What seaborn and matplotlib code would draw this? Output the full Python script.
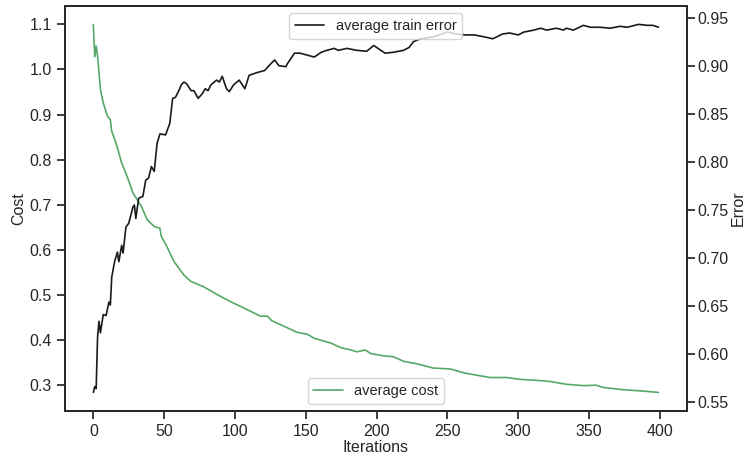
import seaborn as sns
import matplotlib
import matplotlib.pyplot as plt
from pandas import DataFrame
matplotlib.use('Agg')

sns.set_theme(style="ticks")
plt.rcParams['font.family'] = ['Liberation Sans', 'DejaVu Sans']

# values
cost_iter = [0, 1, 2, 3, 5, 7, 10, 12, 13, 16, 20, 23, 26, 28, 34, 38, 43, 47, 48, 52,
             57, 64, 69, 78, 88, 97, 109, 118, 123, 126, 135, 144, 151, 156, 168, 175,
             182, 186, 192, 196, 205, 212, 219, 229, 240, 252, 262, 271, 280, 292, 301,
             316, 323, 334, 346, 355, 360, 374, 388, 399]
cost = [1.100, 1.028, 1.052, 1.030, 0.956, 0.926, 0.896, 0.889, 0.863, 0.837, 0.793,
        0.770, 0.744, 0.726, 0.696, 0.667, 0.652, 0.648, 0.630, 0.607, 0.574, 0.544,
        0.530, 0.518, 0.500, 0.485, 0.467, 0.453, 0.453, 0.443, 0.430, 0.417, 0.413,
        0.404, 0.393, 0.383, 0.378, 0.374, 0.378, 0.370, 0.365, 0.363, 0.353, 0.347,
        0.338, 0.336, 0.327, 0.322, 0.317, 0.317, 0.313, 0.310, 0.308, 0.302, 0.299,
        0.300, 0.295, 0.290, 0.287, 0.284]

error_iter = [0, 1, 2, 3, 4, 5, 7, 9, 11, 12, 13, 15, 17, 18, 20, 21, 23, 25, 28, 29,
              30, 32, 35, 37, 39, 41, 43, 45, 47, 51, 54, 56, 58, 61, 62, 64, 66, 69,
              71, 74, 77, 79, 81, 83, 87, 89, 91, 94, 96, 99, 103, 107, 110, 116, 121,
              124, 128, 131, 136, 137, 142, 146, 151, 156, 161, 165, 170, 173, 179, 186,
              193, 198, 203, 206, 212, 219, 223, 226, 231, 240, 250, 256, 263, 269, 276,
              282, 289, 294, 300, 304, 311, 316, 320, 327, 332, 334, 339, 346, 351, 358,
              365, 372, 377, 385, 391, 395, 399]
error = [0.560, 0.566, 0.564, 0.618, 0.634, 0.622, 0.641, 0.640, 0.654, 0.651, 0.680,
         0.696, 0.706, 0.696, 0.713, 0.705, 0.732, 0.736, 0.753, 0.755, 0.741, 0.762,
         0.764, 0.781, 0.783, 0.795, 0.790, 0.819, 0.829, 0.828, 0.840, 0.866, 0.867,
         0.876, 0.880, 0.883, 0.881, 0.874, 0.874, 0.866, 0.871, 0.876, 0.874, 0.880,
         0.885, 0.883, 0.889, 0.876, 0.873, 0.880, 0.885, 0.876, 0.890, 0.893, 0.895,
         0.900, 0.906, 0.900, 0.899, 0.902, 0.913, 0.913, 0.911, 0.909, 0.914, 0.916,
         0.918, 0.916, 0.918, 0.916, 0.915, 0.921, 0.916, 0.913, 0.914, 0.916, 0.919,
         0.925, 0.928, 0.930, 0.935, 0.933, 0.932, 0.932, 0.930, 0.928, 0.933, 0.934,
         0.932, 0.935, 0.937, 0.939, 0.937, 0.939, 0.937, 0.939, 0.937, 0.942, 0.940,
         0.940, 0.939, 0.941, 0.940, 0.943, 0.942, 0.942, 0.940]

cost_df = DataFrame({'iter': cost_iter, 'cost': cost})
error_df = DataFrame({'iter': error_iter, 'error': error})

ticks_fontsize = 11.5
labels_fontsize = 11.5
legend_fontsize = 10.5
green = sns.color_palette('deep')[2]

fig, ax1 = plt.subplots(figsize=(7.48, 4.59), dpi=100)
fig.subplots_adjust(left=0.087, right=0.918, top=0.987, bottom=0.105)

sns.lineplot(x='iter', y='cost', data=cost_df, ax=ax1, color=green, label='average cost', lw=1.2)
ax1.set_xlabel('Iterations', fontsize=labels_fontsize, labelpad=1)
ax1.set_ylabel('Cost', fontsize=labels_fontsize, labelpad=2)
ax1.set_yticks([0.3, 0.4, 0.5, 0.6, 0.7, 0.8, 0.9, 1.0, 1.1])
ax1.set_xticks([0, 50, 100, 150, 200, 250, 300, 350, 400])
ax1.tick_params(labelsize=ticks_fontsize)

ax2 = ax1.twinx()
sns.lineplot(x='iter', y='error', data=error_df, ax=ax2, color='k', label='average train error', lw=1.2)
ax2.set_ylabel('Error', fontsize=labels_fontsize, labelpad=1)
ax2.set_yticks([0.55, 0.60, 0.65, 0.70, 0.75, 0.80, 0.85, 0.90, 0.95])
ax2.tick_params(labelsize=ticks_fontsize, pad=2)

ax1.legend(loc='lower center', fontsize=legend_fontsize)
ax2.legend(loc='upper center', fontsize=legend_fontsize)

plt.savefig('out.png', dpi=100)
